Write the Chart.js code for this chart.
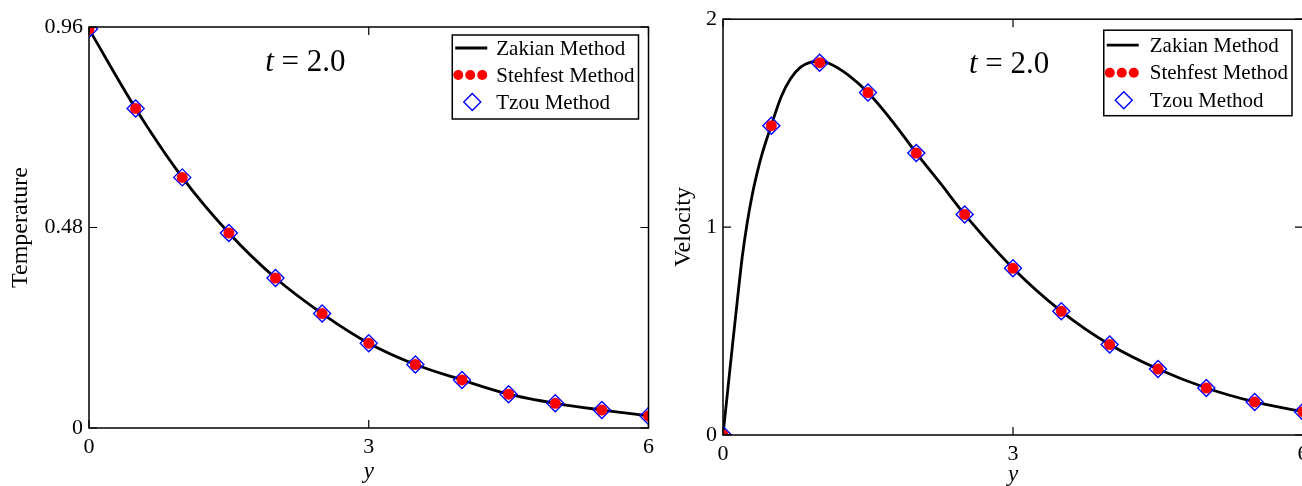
<!DOCTYPE html>
<html>
<head>
<meta charset="utf-8">
<script src="https://cdn.jsdelivr.net/npm/chart.js@4.4.0/dist/chart.umd.min.js"></script>
<style>
html, body { margin: 0; padding: 0; background: #fff; overflow: hidden; }
#wrap { position: relative; width: 1302px; height: 486px; overflow: hidden; }
#tempChart { position: absolute; left: 0; top: 0; }
#velChart { position: absolute; left: 660px; top: 0; }
</style>
</head>
<body>
<div id="wrap">
  <canvas id="tempChart" width="660" height="486"></canvas>
  <canvas id="velChart" width="660" height="486"></canvas>
</div>
<script>
// sample positions y where the three methods are compared
var yPoints = [0, 0.5, 1, 1.5, 2, 2.5, 3, 3.5, 4, 4.5, 5, 5.5, 6];

// temperature, t = 2.0
var tempZakian   = [0.955, 0.765, 0.600, 0.467, 0.359, 0.274, 0.203, 0.152, 0.115, 0.081, 0.059, 0.043, 0.029];
var tempStehfest = [0.955, 0.765, 0.600, 0.467, 0.359, 0.274, 0.203, 0.152, 0.115, 0.081, 0.059, 0.043, 0.029];
var tempTzou     = [0.955, 0.765, 0.600, 0.467, 0.359, 0.274, 0.203, 0.152, 0.115, 0.081, 0.059, 0.043, 0.029];

// velocity, t = 2.0 (the Zakian curve read more densely near the wall)
var velLineY  = [0, 0.05, 0.1, 0.15, 0.2, 0.25, 0.3, 0.35, 0.4, 0.45, 0.5, 0.6, 0.7, 0.8, 0.9, 1.0, 1.1, 1.3, 1.5, 1.75, 2.0, 2.25, 2.5, 3.0, 3.5, 4.0, 4.5, 5.0, 5.5, 6.0];
var velZakian = [0, 0.22, 0.44, 0.655, 0.86, 1.02, 1.15, 1.255, 1.345, 1.42, 1.49, 1.625, 1.715, 1.768, 1.792, 1.797, 1.787, 1.73, 1.647, 1.51, 1.356, 1.21, 1.061, 0.802, 0.595, 0.435, 0.317, 0.226, 0.159, 0.112];
var velStehfest = [0, 1.488, 1.791, 1.647, 1.356, 1.061, 0.802, 0.595, 0.435, 0.317, 0.226, 0.159, 0.112];
var velTzou     = [0, 1.488, 1.791, 1.647, 1.356, 1.061, 0.802, 0.595, 0.435, 0.317, 0.226, 0.159, 0.112];

var xTicks = [0, 3, 6];
var tempTicks = [0, 0.48, 0.96];
var velTicks = [0, 1, 2];
var methodNames = ['Zakian Method', 'Stehfest Method', 'Tzou Method'];

var serif = '"Liberation Serif", "Times New Roman", serif';

function pts(xs, ys) {
  return xs.map(function (x, i) { return { x: x, y: ys[i] }; });
}

function makeDatasets(lineX, lineY, dotY, diaY) {
  return [
    {
      label: methodNames[0],
      data: pts(lineX, lineY),
      borderColor: '#000',
      borderWidth: 2.8,
      pointRadius: 0,
      cubicInterpolationMode: 'monotone',
      order: 3
    },
    {
      label: methodNames[1],
      data: pts(yPoints, dotY),
      showLine: false,
      pointStyle: 'circle',
      pointRadius: 5.5,
      pointBackgroundColor: '#ff0000',
      pointBorderColor: '#ff0000',
      pointBorderWidth: 0,
      order: 1
    },
    {
      label: methodNames[2],
      data: pts(yPoints, diaY),
      showLine: false,
      pointStyle: 'rectRot',
      pointRadius: 8.5,
      pointBackgroundColor: 'rgba(0,0,0,0)',
      pointBorderColor: '#0000ff',
      pointBorderWidth: 1.4,
      order: 2
    }
  ];
}

// box round the plot with inward tick marks on all four sides
var framePlugin = {
  id: 'frame',
  afterDatasetsDraw: function (chart) {
    var ctx = chart.ctx, a = chart.chartArea;
    var xs = chart.scales.x, ys = chart.scales.y;
    ctx.save();
    ctx.strokeStyle = '#000';
    ctx.lineWidth = 1.5;
    ctx.strokeRect(a.left, a.top, a.right - a.left, a.bottom - a.top);
    ctx.lineWidth = 1.2;
    ctx.beginPath();
    xs.ticks.forEach(function (t) {
      var px = xs.getPixelForValue(t.value);
      ctx.moveTo(px, a.bottom); ctx.lineTo(px, a.bottom - 8);
      ctx.moveTo(px, a.top); ctx.lineTo(px, a.top + 8);
    });
    ys.ticks.forEach(function (t) {
      var py = ys.getPixelForValue(t.value);
      ctx.moveTo(a.left, py); ctx.lineTo(a.left + 8, py);
      ctx.moveTo(a.right, py); ctx.lineTo(a.right - 8, py);
    });
    ctx.stroke();
    ctx.restore();
  }
};

// framed legend in the top right corner of the plot
var boxLegendPlugin = {
  id: 'boxLegend',
  afterDraw: function (chart, args, opts) {
    var ctx = chart.ctx, a = chart.chartArea;
    var sets = chart.data.datasets;
    ctx.save();
    ctx.font = '21px ' + serif;
    var maxW = 0;
    sets.forEach(function (d) { maxW = Math.max(maxW, ctx.measureText(d.label).width); });
    var w = opts.textOff + maxW + 4;
    var h = opts.rowGap * 3 + 3;
    var left = a.right - opts.right - w;
    var top = a.top + opts.top;
    ctx.fillStyle = '#fff';
    ctx.fillRect(left, top, w, h);
    ctx.strokeStyle = '#000';
    ctx.lineWidth = 1.5;
    ctx.strokeRect(left, top, w, h);
    ctx.textBaseline = 'middle';
    ctx.textAlign = 'left';
    sets.forEach(function (d, i) {
      var cy = top + opts.first + i * opts.rowGap;
      if (i === 0) {
        ctx.strokeStyle = d.borderColor;
        ctx.lineWidth = 2.8;
        ctx.beginPath();
        ctx.moveTo(left + 3, cy); ctx.lineTo(left + 35, cy);
        ctx.stroke();
      } else if (i === 1) {
        ctx.fillStyle = d.pointBackgroundColor;
        [6, 18, 30].forEach(function (dx) {
          ctx.beginPath();
          ctx.arc(left + dx, cy, 5, 0, Math.PI * 2);
          ctx.fill();
        });
      } else {
        ctx.strokeStyle = d.pointBorderColor;
        ctx.lineWidth = 1.4;
        var cx = left + 20, r = 8.5;
        ctx.beginPath();
        ctx.moveTo(cx, cy - r); ctx.lineTo(cx + r, cy);
        ctx.lineTo(cx, cy + r); ctx.lineTo(cx - r, cy);
        ctx.closePath();
        ctx.stroke();
      }
      ctx.fillStyle = '#000';
      ctx.fillText(d.label, left + opts.textOff, cy + 1);
    });
    ctx.restore();
  }
};

// "t = 2.0" note, placed in data coordinates
var timeNotePlugin = {
  id: 'timeNote',
  afterDraw: function (chart, args, opts) {
    var ctx = chart.ctx;
    var px = chart.scales.x.getPixelForValue(opts.x);
    var py = chart.scales.y.getPixelForValue(opts.y);
    ctx.save();
    ctx.fillStyle = '#000';
    ctx.textBaseline = 'middle';
    ctx.textAlign = 'left';
    var fi = 'italic 31px ' + serif, fn = '31px ' + serif;
    ctx.font = fi;
    var w1 = ctx.measureText('t').width;
    ctx.font = fn;
    var rest = ' = 2.0';
    var w2 = ctx.measureText(rest).width;
    var x0 = px - (w1 + w2) / 2;
    ctx.font = fi;
    ctx.fillText('t', x0, py);
    ctx.font = fn;
    ctx.fillText(rest, x0 + w1, py);
    ctx.restore();
  }
};

function makeOptions(cfg) {
  return {
    responsive: false,
    animation: false,
    layout: { padding: { top: cfg.padTop, right: cfg.padRight, left: 0, bottom: 0 } },
    plugins: {
      legend: { display: false },
      tooltip: { enabled: false },
      boxLegend: cfg.legend,
      timeNote: cfg.note
    },
    scales: {
      x: {
        type: 'linear',
        min: 0, max: 6,
        grid: { display: false, drawTicks: false },
        border: { display: false },
        afterBuildTicks: function (s) { s.ticks = xTicks.map(function (v) { return { value: v }; }); },
        afterFit: function (s) { s.height = cfg.xHeight; },
        ticks: { color: '#000', padding: 6, maxRotation: 0, font: { family: serif, size: 22 } },
        title: { display: true, text: 'y', color: '#000', padding: { top: 0, bottom: cfg.xTitlePad }, font: { family: serif, size: 23, style: 'italic' } }
      },
      y: {
        type: 'linear',
        min: cfg.yTicks[0], max: cfg.yTicks[cfg.yTicks.length - 1],
        grid: { display: false, drawTicks: false },
        border: { display: false },
        afterBuildTicks: function (s) { s.ticks = cfg.yTicks.map(function (v) { return { value: v }; }); },
        afterFit: function (s) { s.width = cfg.yWidth; },
        ticks: { color: '#000', padding: 6, font: { family: serif, size: 22 }, callback: function (v) { return String(v); } },
        title: { display: true, text: cfg.yTitle, color: '#000', padding: { top: cfg.yTitlePad, bottom: 0 }, font: { family: serif, size: 24 } }
      }
    }
  };
}

new Chart(document.getElementById('tempChart'), {
  type: 'line',
  data: { datasets: makeDatasets(yPoints, tempZakian, tempStehfest, tempTzou) },
  options: makeOptions({
    padTop: 27, padRight: 10, xHeight: 58, yWidth: 89,
    yTicks: tempTicks, yTitle: 'Temperature', yTitlePad: 6, xTitlePad: 0,
    legend: { right: 10, top: 8, first: 13, rowGap: 27, textOff: 44 },
    note: { x: 2.32, y: 0.874 }
  }),
  plugins: [framePlugin, boxLegendPlugin, timeNotePlugin]
});

new Chart(document.getElementById('velChart'), {
  type: 'line',
  data: { datasets: makeDatasets(velLineY, velZakian, velStehfest, velTzou) },
  options: makeOptions({
    padTop: 17, padRight: 17, xHeight: 51, yWidth: 63,
    yTicks: velTicks, yTitle: 'Velocity', yTitlePad: 9, xTitlePad: -3,
    legend: { right: 11, top: 11, first: 15, rowGap: 27.5, textOff: 46 },
    note: { x: 2.96, y: 1.78 }
  }),
  plugins: [framePlugin, boxLegendPlugin, timeNotePlugin]
});
</script>
</body>
</html>
